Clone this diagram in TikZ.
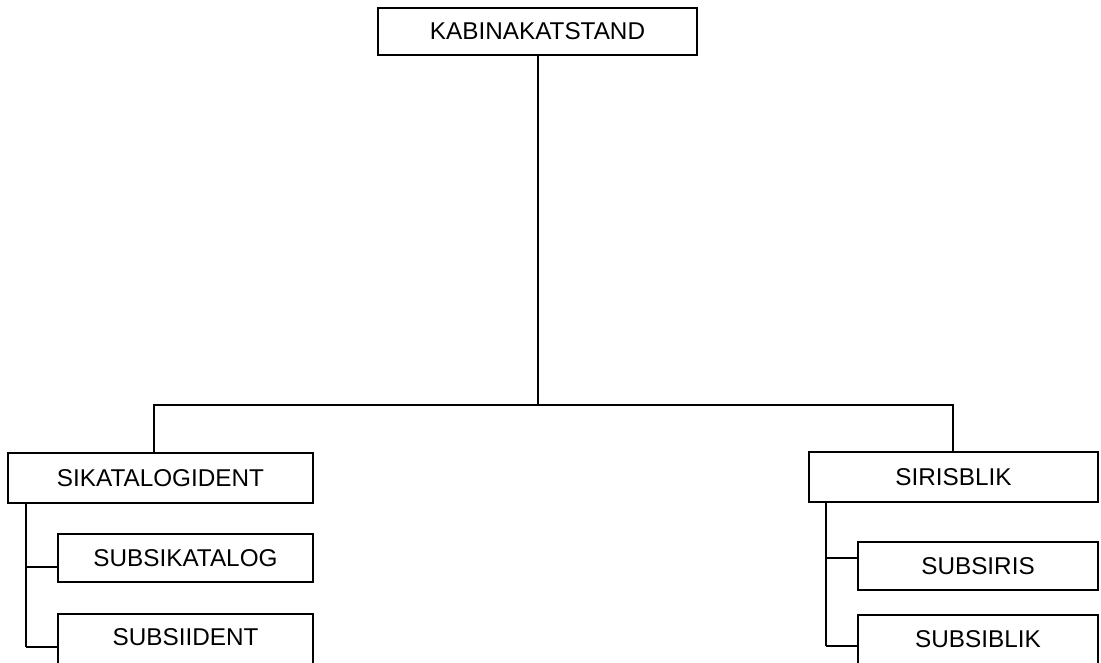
\documentclass[tikz,border=0pt]{standalone}
\usepackage{fontspec}
\setmainfont{Liberation Sans}
\begin{document}
\begin{tikzpicture}[x=1pt,y=-1pt,
  box/.style={draw=black,line width=1.4pt,rectangle,inner sep=0pt,
    font=\fontsize{24.3}{28}\selectfont,text=black},
  link/.style={draw=black,line width=1.4pt}]
\useasboundingbox (0,0) rectangle (1101,662);
\clip (0,0) rectangle (1101,662);

% top level
\node[box,minimum width=319pt,minimum height=47pt] (root) at (537.5,31.5) {KABINAKATSTAND};

% second level
\node[box,minimum width=305pt,minimum height=50pt] (sik) at (160.5,478) {SIKATALOGIDENT};
\node[box,minimum width=289pt,minimum height=50pt] (sir) at (953.5,477) {SIRISBLIK};

% third level, left
\node[box,minimum width=255pt,minimum height=48pt] (subkat) at (185.5,558) {SUBSIKATALOG};
\node[box,minimum width=255pt,minimum height=50pt] (subid) at (185.5,639) {\raisebox{3pt}{SUBSIIDENT}};

% third level, right
\node[box,minimum width=240pt,minimum height=48pt] (subiris) at (978,566) {SUBSIRIS};
\node[box,minimum width=240pt,minimum height=49pt] (subblik) at (978,639.5) {SUBSIBLIK};

% branching bus
\coordinate (bus) at (538,405);
\coordinate (busl) at (154,405);
\coordinate (busr) at (953,405);
\draw[link] (root.south -| bus) -- (bus);
\draw[link] (sik.north -| busl) -- (busl) -- (busr) -- (sir.north -| busr);

% left spine
\coordinate (ls) at (26,503);
\coordinate (l1) at (26,567);
\coordinate (l2) at (26,647);
\draw[link] (ls) -- (l2);
\draw[link] (l1) -- (l1 -| subkat.west);
\draw[link] (l2) -- (l2 -| subid.west);

% right spine
\coordinate (rs) at (826,502);
\coordinate (r1) at (826,558);
\coordinate (r2) at (826,646);
\draw[link] (rs) -- (r2);
\draw[link] (r1) -- (r1 -| subiris.west);
\draw[link] (r2) -- (r2 -| subblik.west);
\end{tikzpicture}
\end{document}
